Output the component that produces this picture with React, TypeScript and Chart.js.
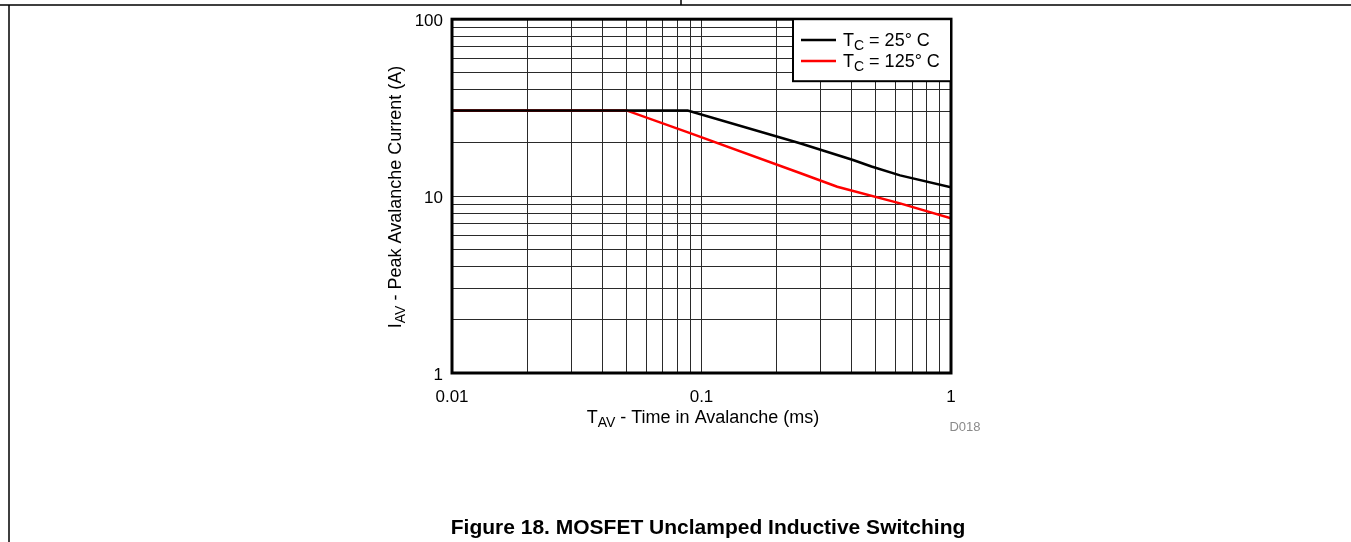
import React, { useEffect, useRef } from "react";
import { Chart, registerables } from "chart.js";

Chart.register(...registerables);

const FONT = "'Liberation Sans', Arial, Helvetica, sans-serif";

// Data
const BLACK_X = [0.01, 0.088, 0.248, 0.405, 0.48, 0.625, 1];
const BLACK_Y = [30.5, 30.5, 19.9, 16.0, 14.7, 13.1, 11.2];
const RED_X = [0.01, 0.05, 0.09, 0.248, 0.35, 0.625, 1];
const RED_Y = [30.5, 30.5, 22.7, 13.5, 11.3, 9.1, 7.5];

const SERIES_NAMES = ["25° C", "125° C"];
const SERIES_COLORS = ["#000000", "#ff0000"];

// Grid / tick values
const X_GRID = [0.01, 0.02, 0.03, 0.04, 0.05, 0.06, 0.07, 0.08, 0.09, 0.1, 0.2, 0.3, 0.4, 0.5, 0.6, 0.7, 0.8, 0.9, 1];
const Y_GRID = [1, 2, 3, 4, 5, 6, 7, 8, 9, 10, 20, 30, 40, 50, 60, 70, 80, 90, 100];
const X_TICK_VALUES = [0.01, 0.1, 1];
const X_TICK_LABELS = ["0.01", "0.1", "1"];
const Y_TICK_VALUES = [1, 10, 100];
const Y_TICK_LABELS = ["1", "10", "100"];

const X_TITLE = ["T", "AV", " - Time in Avalanche (ms)"];
const Y_TITLE = ["I", "AV", " - Peak Avalanche Current (A)"];
const CAPTION = "Figure 18. MOSFET Unclamped Inductive Switching";
const CODE = "D018";

const W = 1351;
const H = 542;

function drawSub(ctx: CanvasRenderingContext2D, parts: string[], x: number, y: number, size: number, align: "left" | "center") {
  const main = `${size}px ${FONT}`;
  const sub = `${Math.round(size * 0.8)}px ${FONT}`;
  ctx.font = main;
  const w0 = ctx.measureText(parts[0]).width;
  const w2 = ctx.measureText(parts[2]).width;
  ctx.font = sub;
  const w1 = ctx.measureText(parts[1]).width;
  const total = w0 + w1 + w2;
  let sx = align === "center" ? x - total / 2 : x;
  ctx.textAlign = "left";
  ctx.textBaseline = "alphabetic";
  ctx.font = main;
  ctx.fillText(parts[0], sx, y);
  sx += w0;
  ctx.font = sub;
  ctx.fillText(parts[1], sx, y + size * 0.22);
  sx += w1;
  ctx.font = main;
  ctx.fillText(parts[2], sx, y);
}

const decorPlugin = {
  id: "decor",
  afterDatasetsDraw(chart: any) {
    const ctx = chart.ctx as CanvasRenderingContext2D;
    const a = chart.chartArea;
    ctx.save();
    // plot frame
    ctx.strokeStyle = "#000";
    ctx.lineWidth = 3;
    ctx.strokeRect(a.left, a.top, a.right - a.left, a.bottom - a.top);

    // legend box
    const lx = 793, ly = a.top, lw = a.right - 793, lh = 62;
    ctx.fillStyle = "#fff";
    ctx.fillRect(lx, ly, lw, lh);
    ctx.lineWidth = 2;
    ctx.strokeRect(lx, ly, lw, lh);
    for (let i = 0; i < SERIES_NAMES.length; i++) {
      const yy = 40 + i * 21;
      ctx.strokeStyle = SERIES_COLORS[i];
      ctx.lineWidth = 2.5;
      ctx.beginPath();
      ctx.moveTo(801, yy);
      ctx.lineTo(836, yy);
      ctx.stroke();
      ctx.fillStyle = "#000";
      drawSub(ctx, ["T", "C", " = " + SERIES_NAMES[i]], 843, yy + 6, 18, "left");
    }

    // axis titles
    ctx.fillStyle = "#000";
    drawSub(ctx, X_TITLE, 703, 423, 18, "center");
    ctx.save();
    ctx.translate(401, 197);
    ctx.rotate(-Math.PI / 2);
    drawSub(ctx, Y_TITLE, 0, 0, 18, "center");
    ctx.restore();

    // code label
    ctx.fillStyle = "#8a8a8a";
    ctx.font = `13px ${FONT}`;
    ctx.textAlign = "center";
    ctx.textBaseline = "middle";
    ctx.fillText(CODE, 965, 427);

    // caption
    ctx.fillStyle = "#000";
    ctx.font = `bold 21px ${FONT}`;
    ctx.textAlign = "center";
    ctx.textBaseline = "alphabetic";
    ctx.fillText(CAPTION, 708, 534);

    // page frame lines
    ctx.strokeStyle = "#000";
    ctx.lineWidth = 1.5;
    ctx.beginPath();
    ctx.moveTo(0, 5);
    ctx.lineTo(W, 5);
    ctx.moveTo(681, 0);
    ctx.lineTo(681, 5);
    ctx.moveTo(9, 5);
    ctx.lineTo(9, H);
    ctx.stroke();
    ctx.restore();
  },
};

export default function App() {
  const ref = useRef<HTMLCanvasElement | null>(null);
  useEffect(() => {
    if (!ref.current) return;
    const chart = new Chart(ref.current, {
      type: "line",
      data: {
        datasets: [
          {
            label: SERIES_NAMES[0],
            data: BLACK_X.map((x, i) => ({ x, y: BLACK_Y[i] })),
            borderColor: SERIES_COLORS[0],
            borderWidth: 2.5,
            pointRadius: 0,
            tension: 0,
            fill: false,
          },
          {
            label: SERIES_NAMES[1],
            data: RED_X.map((x, i) => ({ x, y: RED_Y[i] })),
            borderColor: SERIES_COLORS[1],
            borderWidth: 2.5,
            pointRadius: 0,
            tension: 0,
            fill: false,
          },
        ],
      },
      options: {
        responsive: false,
        animation: false,
        events: [],
        layout: { padding: { left: 0, top: 19, right: W - 951, bottom: 542 - 373 - 40 } },
        plugins: { legend: { display: false }, tooltip: { enabled: false }, title: { display: false } },
        scales: {
          x: {
            type: "logarithmic",
            min: 0.01,
            max: 1,
            afterBuildTicks: (s: any) => {
              s.ticks = X_GRID.map((v) => ({ value: v }));
            },
            afterFit: (s: any) => {
              s.height = 40;
            },
            grid: { color: "#2a2a2a", lineWidth: 1, drawTicks: false },
            border: { display: false },
            ticks: {
              autoSkip: false,
              maxRotation: 0,
              padding: 14,
              color: "#000",
              font: { family: FONT, size: 17 },
              callback: (v: any) => {
                const idx = X_TICK_VALUES.findIndex((t) => Math.abs(t - Number(v)) < 1e-9);
                return idx >= 0 ? X_TICK_LABELS[idx] : "";
              },
            },
          },
          y: {
            type: "logarithmic",
            min: 1,
            max: 100,
            afterBuildTicks: (s: any) => {
              s.ticks = Y_GRID.map((v) => ({ value: v }));
            },
            afterFit: (s: any) => {
              s.width = 452;
            },
            grid: { color: "#2a2a2a", lineWidth: 1, drawTicks: false },
            border: { display: false },
            ticks: {
              autoSkip: false,
              padding: 9,
              labelOffset: 2,
              color: "#000",
              font: { family: FONT, size: 17 },
              callback: (v: any) => {
                const idx = Y_TICK_VALUES.findIndex((t) => Math.abs(t - Number(v)) < 1e-9);
                return idx >= 0 ? Y_TICK_LABELS[idx] : "";
              },
            },
          },
        },
      },
      plugins: [decorPlugin],
    });
    return () => chart.destroy();
  }, []);
  return (
    <div style={{ position: "fixed", left: 0, top: 0, width: W, height: H, background: "#fff" }}>
      <canvas ref={ref} width={W} height={H} style={{ display: "block", width: W, height: H }} />
    </div>
  );
}
